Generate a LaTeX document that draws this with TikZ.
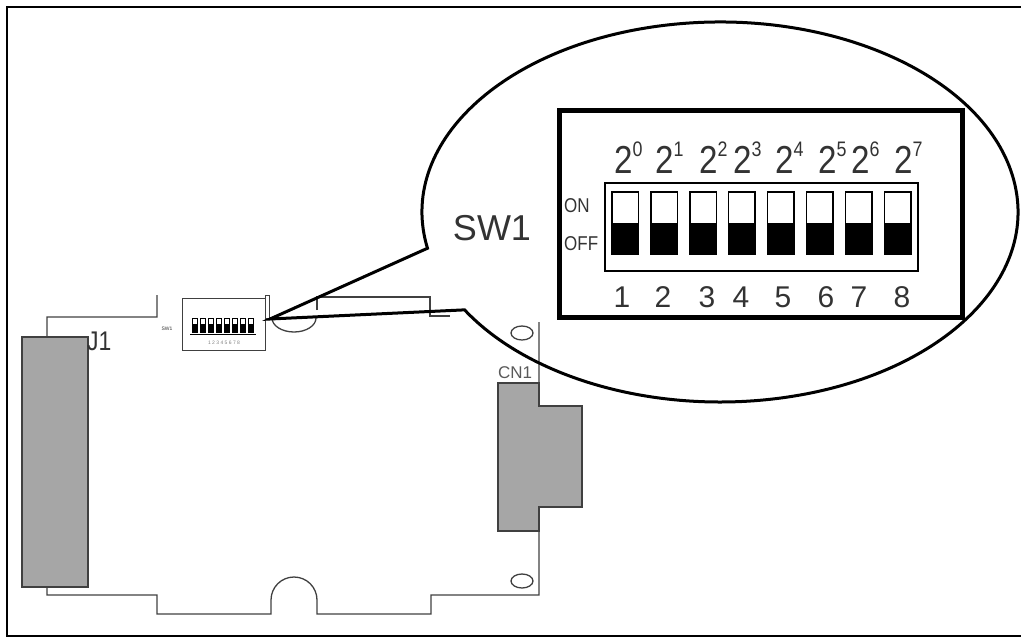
\documentclass[tikz,border=0pt]{standalone}
\usepackage{fontspec}
\setmainfont{Liberation Sans}
\newfontfamily\narrowsf[FakeStretch=0.85]{Liberation Sans}
\begin{document}
\begin{tikzpicture}[x=1pt,y=-1pt,
  board/.style={draw=black!75, line width=1.3pt},
  part/.style={board, fill=black!35},
  callout/.style={line width=3pt},
  lbl/.style={inner sep=0pt, text=black!80}]

  \useasboundingbox (0,0) rectangle (1021,637);
  \def\sw{26.5}
  \def\pitch{38.9}

  % outer frame
  \draw[line width=2pt] (7,637) -- (7,7) -- (1021,7);
  \draw[line width=2pt] (7,636) -- (1021,636);

  % board outline
  \draw[board] (157,295) -- (157,317) -- (47,317) -- (47,595) -- (157,595)
    -- (157,614) -- (271,614) -- (271,600) arc[start angle=180, end angle=360, radius=23]
    -- (317,614) -- (431,614) -- (431,595) -- (539,595) -- (539,322);
  \draw[board] (317,310) -- (317,297) -- (430,297) -- (430,316) -- (450,316);
  \draw[board] (272,318) arc[start angle=180, end angle=0, x radius=22, y radius=14];
  \draw[board] (522,333) ellipse[x radius=11, y radius=7];
  \draw[board] (522,581) ellipse[x radius=11, y radius=7];

  % connectors
  \draw[part] (22,337) rectangle (88,587);
  \draw[part] (498,383) -- (539,383) -- (539,406) -- (582,406) -- (582,507)
    -- (539,507) -- (539,531) -- (498,531) -- cycle;
  \node[lbl, anchor=base west, font=\narrowsf\fontsize{27}{27}\selectfont] (j1) at (87,350) {J1};
  \node[lbl, anchor=base, font=\fontsize{17}{17}\selectfont, text=black!65] (cn1) at (515,378) {CN1};

  % small switch on the board
  \draw[board, line width=0.8pt] (182,298) rectangle (265,350);
  \draw[board, line width=0.8pt] (265,295) rectangle (269,318);
  \foreach \i in {0,...,7} {
    \draw[line width=0.4pt] (192+\i*8,318) rectangle ++(5,14);
    \fill (192+\i*8,324) rectangle ++(5,8);
  }
  \draw[line width=0.6pt] (190,334) -- (256,334);
  \node[lbl, font=\fontsize{5}{5}\selectfont] (sws) at (167,329) {SW1};
  \node[lbl, font=\fontsize{5}{5}\selectfont, text=black!50] (swn) at (224,343) {1 2 3 4 5 6 7 8};

  % callout
  \coordinate (tip) at (270,319);
  \coordinate (c) at (720,212);
  \draw[callout] (tip) -- ([shift={(169:298 and 190)}]c)
    arc[start angle=169, end angle=509, x radius=298, y radius=190] -- cycle;
  \node[lbl, anchor=base, font=\fontsize{36}{36}\selectfont] (swname) at (492,240) {SW1};

  % enlarged switch
  \draw[line width=5pt] (559,110) rectangle (962,317);
  \draw[line width=2pt] (605,183) rectangle (918,271);
  \foreach \i in {0,...,7} {
    \draw[line width=1.5pt] (612+\i*\pitch,192) rectangle ++(\sw,62);
    \fill (612+\i*\pitch,223) rectangle ++(\sw,31);
  }
  \node[lbl, anchor=base west, font=\narrowsf\fontsize{20}{20}\selectfont] (on) at (564,212) {ON};
  \node[lbl, anchor=base west, font=\narrowsf\fontsize{20}{20}\selectfont] (off) at (564,250) {OFF};
  \foreach \n/\x in {1/622,2/663,3/707,4/741,5/783,6/826,7/859,8/902} {
    \pgfmathtruncatemacro\e{\n-1}
    \node[lbl, anchor=base, font=\fontsize{30}{30}\selectfont] (num\n) at (\x,307) {\n};
    \node[lbl, anchor=base west, font=\narrowsf\fontsize{39}{39}\selectfont] (pow\n) at (\x-8,173)
      {2\raisebox{17pt}{\fontsize{21}{21}\selectfont\e}};
  }

\end{tikzpicture}
\end{document}
